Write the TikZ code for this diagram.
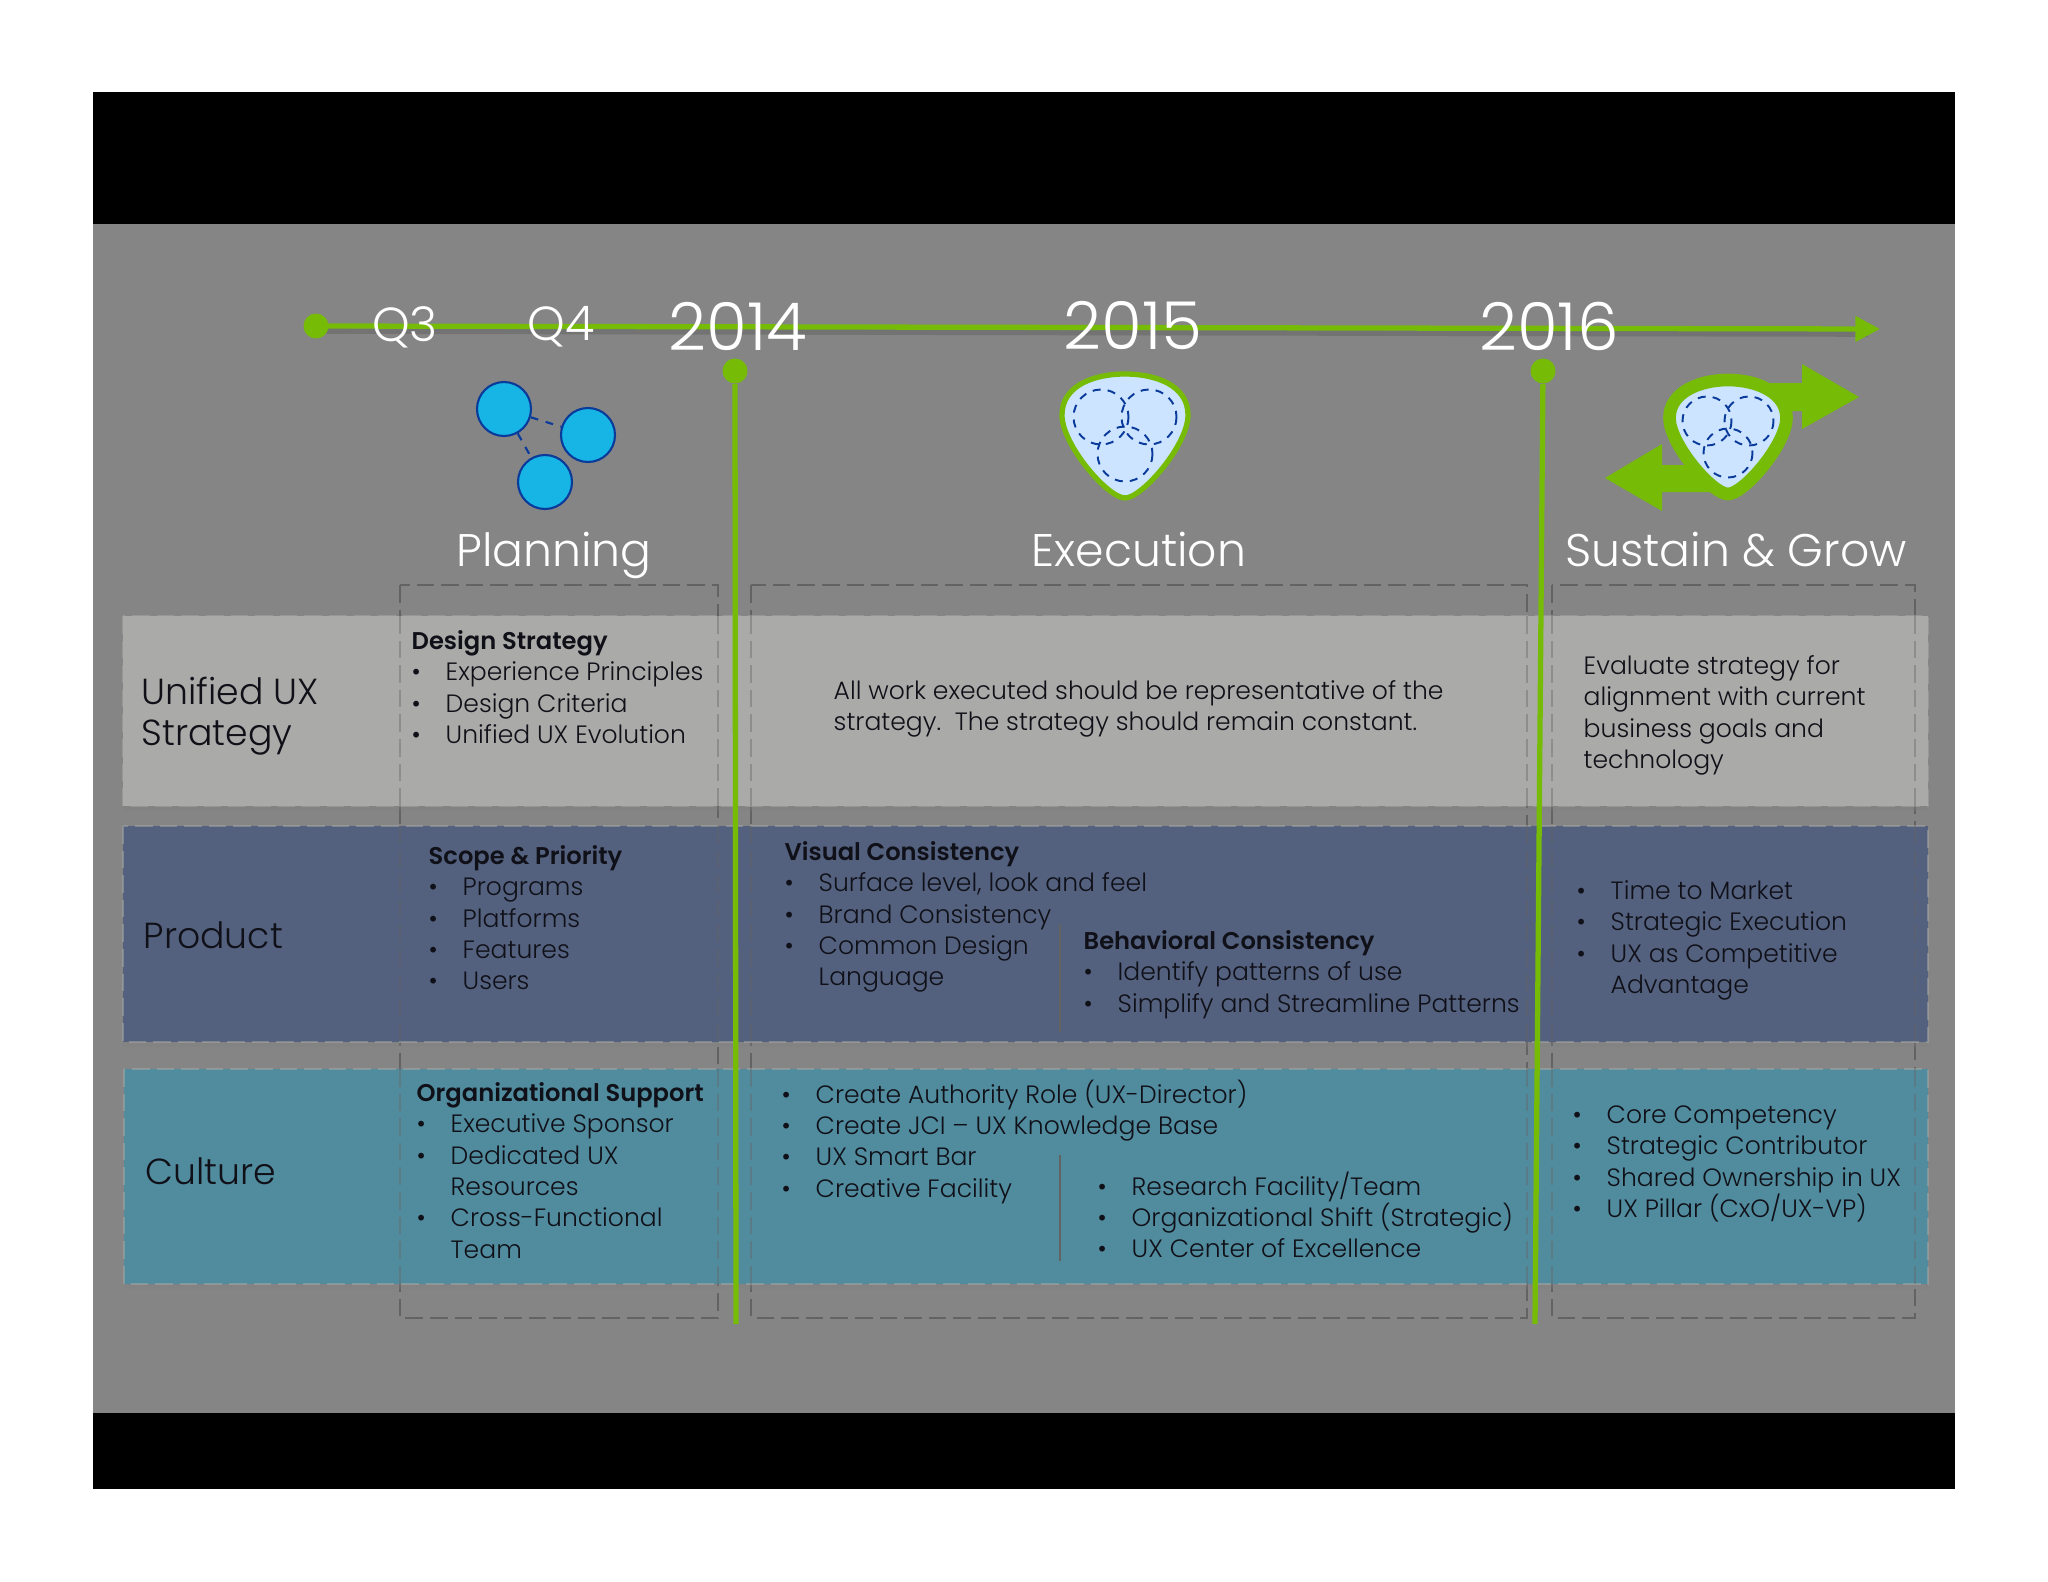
\documentclass[tikz,border=0pt]{standalone}
\usepackage{fontspec}
\setmainfont{Poppins}[UprightFont=* Light,BoldFont=* SemiBold,BoldFeatures={Scale=0.965}]
\usepackage{xcolor}
\usetikzlibrary{arrows.meta,shadows,positioning}

\definecolor{panelgray}{HTML}{858585}
\definecolor{rowgray}{HTML}{AAAAA8}
\definecolor{rowblue}{HTML}{53617F}
\definecolor{rowteal}{HTML}{518C9E}
\definecolor{linegreen}{HTML}{76BB06}
\definecolor{dotblue}{HTML}{17B5E5}
\definecolor{edgeblue}{HTML}{0A3A9A}
\definecolor{dropblue}{HTML}{CCE4FF}
\definecolor{coldash}{HTML}{636363}
\definecolor{bodytext}{HTML}{101018}

\newcommand{\bul}[1]{\makebox[34\pxu][l]{\textbullet}#1}
\newcommand{\nobul}[1]{\makebox[34\pxu][l]{}#1}
\newlength{\pxu}
\setlength{\pxu}{0.01cm}

\tikzset{
  bodytxt/.style={anchor=north west,inner sep=0pt,align=left,text=bodytext,
                  font=\fontsize{7.13pt}{8.9pt}\selectfont,execute at begin node=\strut},
  rowtxt/.style={anchor=north west,inner sep=0pt,align=left,text=bodytext,
                 font=\fontsize{10.3pt}{11.8pt}\selectfont,execute at begin node=\strut},
  phasetxt/.style={inner sep=0pt,text=white,font=\fontsize{13pt}{15pt}\selectfont},
  yeartxt/.style={inner sep=0pt,text=white,font=\fontsize{18.8pt}{20pt}\selectfont},
  qtxt/.style={inner sep=0pt,text=white,font=\fontsize{13.6pt}{15pt}\selectfont},
  coldash/.style={draw=coldash,dashed,dash pattern=on 5pt off 2pt,line width=0.35pt},
  colfaint/.style={coldash,opacity=0.4},
  rowbox/.style={drop shadow={shadow xshift=0pt,shadow yshift=-1.3pt,opacity=0.3}},
  rowedge/.style={draw=rowgray,dashed,dash pattern=on 5pt off 2pt,line width=0.4pt,opacity=0.5},
  greenline/.style={draw=linegreen,line width=1.5pt},
  greendot/.style={circle,fill=linegreen,minimum size=25\pxu,inner sep=0pt},
  planet/.style={circle,fill=dotblue,draw=edgeblue,line width=0.6pt,minimum size=54\pxu,inner sep=0pt},
  petal/.style={draw=edgeblue,dashed,dash pattern=on 2.3pt off 2pt,line width=0.55pt},
  dropshape/.style={fill=dropblue,draw=linegreen},
}

\begin{document}
\begin{tikzpicture}[x=0.01cm,y=-0.01cm]
  \useasboundingbox (0,0) rectangle (2048,1582);

  % panel
  \fill[black] (93,92) rectangle (1955,1489);
  \fill[panelgray] (93,224) rectangle (1955,1413);

  % dashed columns
  \draw[coldash] (400,585) rectangle (718,1318);
  \draw[coldash] (751,585) rectangle (1527,1318);
  \draw[coldash] (1552,585) rectangle (1915,1318);

  % rows
  \fill[rowgray,rowbox] (123,616) rectangle (1928,806);
  \fill[rowblue,rowbox] (123,826) rectangle (1928,1042);
  \fill[rowteal,rowbox] (124,1069) rectangle (1928,1284);
  \draw[rowedge] (123,616) rectangle (1928,806);
  \draw[rowedge] (123,826) rectangle (1928,1042);
  \draw[rowedge] (124,1069) rectangle (1928,1284);
  \foreach \colx in {400,718,751,1527,1552,1915}{
    \draw[colfaint] (\colx,616) -- (\colx,806);
    \draw[colfaint] (\colx,826) -- (\colx,1042);
    \draw[colfaint] (\colx,1069) -- (\colx,1284);
  }

  % time line
  \coordinate (tstart) at (316,326);
  \coordinate (tend) at (1880,329);
  \draw[black,opacity=0.13,line width=1.6pt] (316,331) -- (1868,334);
  \draw[greenline,-{Triangle[length=7pt,width=7pt]}] (tstart) -- (tend);
  \node[greendot] (startdot) at (tstart) {};

  \node[qtxt] (qthree) at (405,327) {Q3};
  \node[qtxt] (qfour) at (561,327) {Q4};
  \node[yeartxt] (yfourteen) at (738,326) {2014};
  \node[yeartxt] (yfifteen) at (1133,326) {2015};
  \node[yeartxt] (ysixteen) at (1549,326) {2016};

  % year marks
  \node[greendot] (dotfourteen) at (735,371) {};
  \node[greendot] (dotsixteen) at (1543,371) {};
  \coordinate (endfourteen) at (736,1324);
  \coordinate (endsixteen) at (1535,1324);
  \draw[greenline] (dotfourteen) -- (endfourteen);
  \draw[greenline] (dotsixteen) -- (endsixteen);

  % planning icon
  \node[planet] (pa) at (504,409) {};
  \node[planet] (pb) at (588,435) {};
  \node[planet] (pc) at (545,482) {};
  \draw[edgeblue,dashed,dash pattern=on 2.2pt off 2.2pt,line width=0.6pt] (pa) -- (pb);
  \draw[edgeblue,dashed,dash pattern=on 2.2pt off 2.2pt,line width=0.6pt] (pa) -- (pc);

  % execution icon
  \draw[dropshape,line width=1.5pt] (1125,498)
    .. controls (1108,498) and (1062,445) .. (1062,415)
    .. controls (1062,385) and (1095,374) .. (1125,374)
    .. controls (1155,374) and (1188,385) .. (1188,415)
    .. controls (1188,445) and (1142,498) .. (1125,498) -- cycle;
  \draw[petal] (1101,417) circle (27.5);
  \draw[petal] (1149,417) circle (27.5);
  \draw[petal] (1125,454) circle (27.5);

  % sustain icon
  \fill[linegreen] (1730,383) -- (1802,383) -- (1802,364) -- (1859,397) -- (1802,429) -- (1802,411) -- (1730,411) -- cycle;
  \fill[linegreen] (1730,465) -- (1662,465) -- (1662,444) -- (1605,478) -- (1662,511) -- (1662,492) -- (1730,492) -- cycle;
  \draw[dropshape,line width=3.6pt] (1728,494)
    .. controls (1712,494) and (1669.5,444) .. (1669.5,418)
    .. controls (1669.5,392) and (1700,380) .. (1728,380)
    .. controls (1756,380) and (1786.5,392) .. (1786.5,418)
    .. controls (1786.5,444) and (1744,494) .. (1728,494) -- cycle;
  \draw[petal] (1707,421) circle (24.5);
  \draw[petal] (1749,421) circle (24.5);
  \draw[petal] (1728,453) circle (24.5);

  % phases
  \node[phasetxt,anchor=base] (planning) at (554,566) {Planning};
  \node[phasetxt,anchor=base] (execution) at (1139,566) {Execution};
  \node[phasetxt,anchor=base] (sustain) at (1736,566) {Sustain \& Grow};

  % row names
  \node[rowtxt] (rowux) at (141,676) {Unified UX\\Strategy};
  \node[rowtxt] (rowproduct) at (143,919) {Product};
  \node[rowtxt] (rowculture) at (145,1155) {Culture};

  % unified ux strategy
  \node[bodytxt] (designstrategy) at (411,630) {\textbf{Design Strategy}\\
    \bul{Experience Principles}\\\bul{Design Criteria}\\\bul{Unified UX Evolution}};
  \node[bodytxt] (allwork) at (833,680) {All work executed should be representative of the\\
    strategy.\ \ The strategy should remain constant.};
  \node[bodytxt] (evaluate) at (1583,655) {Evaluate strategy for\\alignment with current\\
    business goals and\\technology};

  % product
  \node[bodytxt] (scope) at (428,845) {\textbf{Scope \& Priority}\\
    \bul{Programs}\\\bul{Platforms}\\\bul{Features}\\\bul{Users}};
  \node[bodytxt] (visual) at (784,841) {\textbf{Visual Consistency}\\
    \bul{Surface level, look and feel}\\\bul{Brand Consistency}\\\bul{Common Design}\\\nobul{Language}};
  \node[bodytxt] (behavioral) at (1083,930) {\textbf{Behavioral Consistency}\\
    \bul{Identify patterns of use}\\\bul{Simplify and Streamline Patterns}};
  \node[bodytxt] (market) at (1576,880) {\bul{Time to Market}\\\bul{Strategic Execution}\\
    \bul{UX as Competitive}\\\nobul{Advantage}};
  \coordinate (vsepa) at (1060,924);
  \coordinate (vsepb) at (1060,1032);
  \draw[coldash,dash pattern=on 100pt off 0pt] (vsepa) -- (vsepb);

  % culture
  \node[bodytxt] (support) at (416,1082) {\textbf{Organizational Support}\\
    \bul{Executive Sponsor}\\\bul{Dedicated UX}\\\nobul{Resources}\\\bul{Cross-Functional}\\\nobul{Team}};
  \node[bodytxt] (authority) at (781,1079) {\bul{Create Authority Role (UX-Director)}\\
    \bul{Create JCI – UX Knowledge Base}\\\bul{UX Smart Bar}\\\bul{Creative Facility}};
  \node[bodytxt] (research) at (1097,1171) {\bul{Research Facility/Team}\\
    \bul{Organizational Shift (Strategic)}\\\bul{UX Center of Excellence}};
  \node[bodytxt] (core) at (1572,1105) {\bul{Core Competency}\\\bul{Strategic Contributor}\\
    \bul{Shared Ownership in UX}\\\bul{UX Pillar (CxO/UX-VP)}};
  \coordinate (csepa) at (1060,1155);
  \coordinate (csepb) at (1060,1261);
  \draw[coldash,dash pattern=on 100pt off 0pt] (csepa) -- (csepb);
\end{tikzpicture}
\end{document}
